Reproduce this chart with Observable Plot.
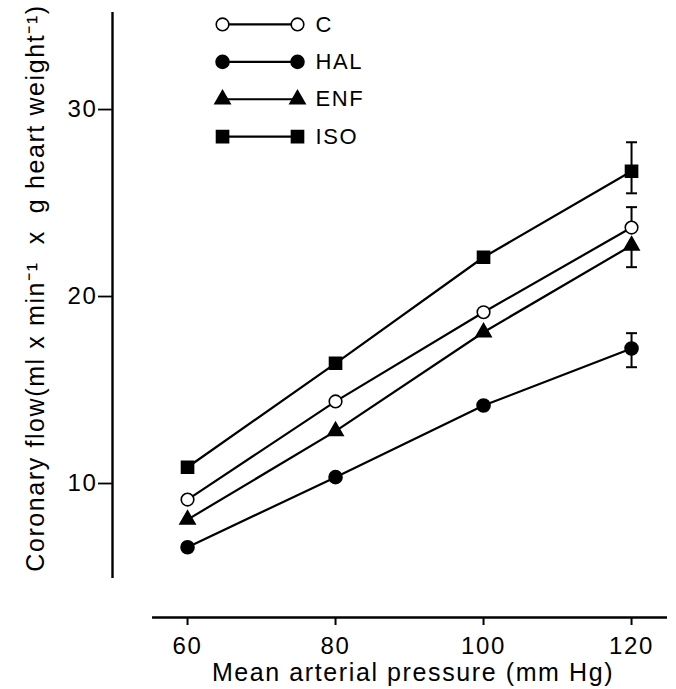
<!DOCTYPE html>
<html><head><meta charset="utf-8">
<script src="https://cdn.jsdelivr.net/npm/d3@7"></script>
<script src="https://cdn.jsdelivr.net/npm/@observablehq/plot@0.6"></script>
<style>
body{margin:0;background:#fff}
#chart svg{font-family:"Liberation Sans",Arial,Helvetica,sans-serif}
#chart svg text{letter-spacing:1.6px}
</style>
</head><body><div id="chart"></div>
<script>
// ---- data ----
const pressures = [60, 80, 100, 120];
const seriesNames = ["C", "HAL", "ENF", "ISO"];
const flowC   = [9.14, 14.39, 19.16, 23.69];
const flowHAL = [6.59, 10.34, 14.17, 17.22];
const flowENF = [8.07, 12.80, 18.09, 22.73];
const flowISO = [10.87, 16.43, 22.10, 26.70];
const errPressure = 120;
const errUpper = [24.78, 18.04, null, 28.25];   // C, HAL, ENF, ISO
const errLower = [null, 16.22, 21.57, 25.52];
const yTicks = [10, 20, 30];
const xLabel = "Mean arterial pressure (mm Hg)";
const yLabel = "Coronary flow(ml x min\u207B\u00B9\u00A0\u00A0x\u00A0 g heart weight\u207B\u00B9)";

// ---- build tables ----
const flows = [flowC, flowHAL, flowENF, flowISO];
const rows = seriesNames.flatMap((s, i) => pressures.map((p, j) => ({series: s, pressure: p, flow: flows[i][j]})));
const means120 = flows.map(f => f[pressures.indexOf(errPressure)]);
const errRows = [];
seriesNames.forEach((s, i) => {
  if (errUpper[i] != null) errRows.push({series: s, pressure: errPressure, from: means120[i], to: errUpper[i]});
  if (errLower[i] != null) errRows.push({series: s, pressure: errPressure, from: means120[i], to: errLower[i]});
});

// ---- style config ----
const markerStyle = {
  C:   {symbol: "circle",   fill: "white", r: 6.3},
  HAL: {symbol: "circle",   fill: "black", r: 6.5},
  ENF: {symbol: "triangle", fill: "black", r: 5.6},
  ISO: {symbol: "square",   fill: "black", r: 6.8}
};
const capSymbol = {draw(ctx, size) { const w = Math.sqrt(size) / 2; ctx.moveTo(-w, 0); ctx.lineTo(w, 0); }};

// legend layout (in data units, placed inside the frame)
const legendX1 = 64.73, legendX2 = 74.86, legendTextX = 77.3;
const legendTop = 34.55, legendStep = 2.0;
const legendRows = seriesNames.map((s, i) => ({series: s, y: legendTop - i * legendStep}));

const xDomain = [49.86, 124.86];
const yDomain = [2.834, 35.19];
const xAxisExtent = [55.27, 124.86];
const yAxisExtent = [4.92, 35.19];

const lw = 2.2;
const marks = [
  // axis lines
  Plot.ruleX([xDomain[0]], {y1: yAxisExtent[0], y2: yAxisExtent[1], stroke: "black", strokeWidth: 2.4}),
  Plot.ruleY([yDomain[0]], {x1: xAxisExtent[0], x2: xAxisExtent[1], stroke: "black", strokeWidth: 2.4}),
  Plot.axisY({ticks: yTicks, tickSize: 14, tickPadding: 1, fontSize: 24, label: null, strokeWidth: 1.8, tickFormat: d => d}),
  Plot.axisX({ticks: pressures, tickSize: 8, tickPadding: 11, fontSize: 24, label: null, strokeWidth: 2, tickFormat: d => d}),
  Plot.text([xLabel], {frameAnchor: "bottom", lineAnchor: "top", dx: 23, dy: 46, fontSize: 25, fill: "black"}),
  Plot.text([yLabel], {frameAnchor: "left", rotate: -90, textAnchor: "middle", lineAnchor: "middle", dx: -77, dy: -27, fontSize: 25, fill: "black"}),
  // data lines
  Plot.line(rows, {x: "pressure", y: "flow", z: "series", stroke: "black", strokeWidth: lw}),
  // error bars
  Plot.ruleX(errRows, {x: "pressure", y1: "from", y2: "to", stroke: "black", strokeWidth: 2}),
  Plot.dot(errRows, {x: "pressure", y: "to", symbol: capSymbol, r: 6.2, stroke: "black", strokeWidth: 2, fill: "none"}),
  // legend lines
  Plot.link(legendRows, {x1: () => legendX1, x2: () => legendX2, y1: "y", y2: "y", stroke: "black", strokeWidth: lw}),
  Plot.text(legendRows, {x: () => legendTextX, y: "y", text: "series", textAnchor: "start", fontSize: 22, fill: "black"})
];
seriesNames.forEach(s => {
  const st = markerStyle[s];
  const o = {symbol: st.symbol, r: st.r, fill: st.fill, stroke: "black", strokeWidth: 1.6};
  marks.push(Plot.dot(rows.filter(d => d.series === s), {x: "pressure", y: "flow", ...o}));
  const lr = legendRows.filter(d => d.series === s);
  marks.push(Plot.dot(lr, {x: () => legendX1, y: "y", ...o}));
  marks.push(Plot.dot(lr, {x: () => legendX2, y: "y", ...o}));
});

const chart = Plot.plot({
  width: 676, height: 689,
  marginLeft: 112, marginRight: 9, marginTop: 12, marginBottom: 72,
  x: {domain: xDomain},
  y: {domain: yDomain},
  style: {background: "white", color: "black", fontFamily: "Liberation Sans, Arial, sans-serif"},
  marks
});
document.getElementById("chart").appendChild(chart);
</script>
</body></html>
